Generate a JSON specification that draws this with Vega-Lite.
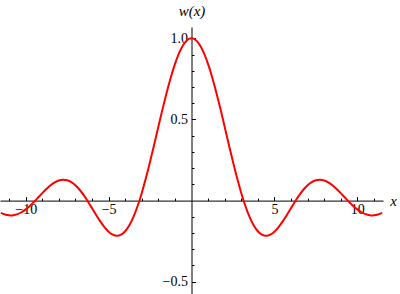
{
  "$schema": "https://vega.github.io/schema/vega-lite/v6.json",
  "autosize": {"type": "none"},
  "padding": {"left": 0, "top": 27, "right": 17, "bottom": 0},
  "width": 383,
  "height": 267,
  "background": "white",
  "config": {"view": {"stroke": null}},
  "data": {"values": [
    {"x": -11.5, "w": -0.076146}, {"x": -11.25, "w": -0.085835}, {"x": -11.0, "w": -0.090908}, {"x": -10.75, "w": -0.090282},
    {"x": -10.5, "w": -0.083781}, {"x": -10.25, "w": -0.071993}, {"x": -10.0, "w": -0.054402}, {"x": -9.75, "w": -0.032987},
    {"x": -9.5, "w": -0.007911}, {"x": -9.25, "w": 0.019088}, {"x": -9.0, "w": 0.045791}, {"x": -8.75, "w": 0.071353},
    {"x": -8.5, "w": 0.09394}, {"x": -8.25, "w": 0.111831}, {"x": -8.0, "w": 0.12367}, {"x": -7.75, "w": 0.128335},
    {"x": -7.5, "w": 0.125067}, {"x": -7.25, "w": 0.113528}, {"x": -7.0, "w": 0.093855}, {"x": -6.75, "w": 0.066673},
    {"x": -6.5, "w": 0.033095}, {"x": -6.25, "w": -0.005309}, {"x": -6.0, "w": -0.046569}, {"x": -5.75, "w": -0.088497},
    {"x": -5.5, "w": -0.12828}, {"x": -5.25, "w": -0.163607}, {"x": -5.0, "w": -0.191785}, {"x": -4.75, "w": -0.210377},
    {"x": -4.5, "w": -0.217229}, {"x": -4.25, "w": -0.210586}, {"x": -4.0, "w": -0.189201}, {"x": -3.75, "w": -0.152416},
    {"x": -3.5, "w": -0.100224}, {"x": -3.25, "w": -0.033291}, {"x": -3.0, "w": 0.04704}, {"x": -2.75, "w": 0.138786},
    {"x": -2.5, "w": 0.239389}, {"x": -2.25, "w": 0.34581}, {"x": -2.0, "w": 0.454649}, {"x": -1.75, "w": 0.562278},
    {"x": -1.5, "w": 0.664997}, {"x": -1.25, "w": 0.759188}, {"x": -1.0, "w": 0.841471}, {"x": -0.75, "w": 0.908852},
    {"x": -0.5, "w": 0.958851}, {"x": -0.25, "w": 0.98962}, {"x": 0.0, "w": 1.0},
    {"x": 0.25, "w": 0.98962}, {"x": 0.5, "w": 0.958851}, {"x": 0.75, "w": 0.908852}, {"x": 1.0, "w": 0.841471},
    {"x": 1.25, "w": 0.759188}, {"x": 1.5, "w": 0.664997}, {"x": 1.75, "w": 0.562278}, {"x": 2.0, "w": 0.454649},
    {"x": 2.25, "w": 0.34581}, {"x": 2.5, "w": 0.239389}, {"x": 2.75, "w": 0.138786}, {"x": 3.0, "w": 0.04704},
    {"x": 3.25, "w": -0.033291}, {"x": 3.5, "w": -0.100224}, {"x": 3.75, "w": -0.152416}, {"x": 4.0, "w": -0.189201},
    {"x": 4.25, "w": -0.210586}, {"x": 4.5, "w": -0.217229}, {"x": 4.75, "w": -0.210377}, {"x": 5.0, "w": -0.191785},
    {"x": 5.25, "w": -0.163607}, {"x": 5.5, "w": -0.12828}, {"x": 5.75, "w": -0.088497}, {"x": 6.0, "w": -0.046569},
    {"x": 6.25, "w": -0.005309}, {"x": 6.5, "w": 0.033095}, {"x": 6.75, "w": 0.066673}, {"x": 7.0, "w": 0.093855},
    {"x": 7.25, "w": 0.113528}, {"x": 7.5, "w": 0.125067}, {"x": 7.75, "w": 0.128335}, {"x": 8.0, "w": 0.12367},
    {"x": 8.25, "w": 0.111831}, {"x": 8.5, "w": 0.09394}, {"x": 8.75, "w": 0.071353}, {"x": 9.0, "w": 0.045791},
    {"x": 9.25, "w": 0.019088}, {"x": 9.5, "w": -0.007911}, {"x": 9.75, "w": -0.032987}, {"x": 10.0, "w": -0.054402},
    {"x": 10.25, "w": -0.071993}, {"x": 10.5, "w": -0.083781}, {"x": 10.75, "w": -0.090282}, {"x": 11.0, "w": -0.090908},
    {"x": 11.25, "w": -0.085835}, {"x": 11.5, "w": -0.076146}
  ]},
  "mark": {"type": "line", "color": "#ff0000", "strokeWidth": 2, "interpolate": "natural"},
  "encoding": {
    "x": {
      "field": "x", "type": "quantitative",
      "scale": {"domain": [-11.55, 11.55], "nice": false, "zero": false},
      "axis": {
        "orient": "bottom", "offset": -93.4, "grid": false,
        "values": [-11,-10,-9,-8,-7,-6,-5,-4,-3,-2,-1,1,2,3,4,5,6,7,8,9,10,11],
        "domainColor": "black", "domainWidth": 1, "tickColor": "black", "tickWidth": 1,
        "tickSize": {"condition": {"test": "datum.value % 5 === 0", "value": -4}, "value": -2.5},
        "labelExpr": "datum.value % 5 === 0 ? replace(format(datum.value, 'd'), '-', '\u2212') : ''",
        "labelFont": "Liberation Serif", "labelFontSize": 14, "labelColor": "black", "labelPadding": 6,
        "labelOverlap": false, "labelFlush": false,
        "title": "x", "titleFont": "Liberation Serif", "titleFontSize": 15, "titleFontStyle": "italic", "titleFontWeight": "normal",
        "titleColor": "black", "titleAlign": "center", "titleBaseline": "alphabetic", "titleX": 393, "titleY": 4.5, "titleAngle": 0
      }
    },
    "y": {
      "field": "w", "type": "quantitative",
      "scale": {"domain": [-0.576, 1.07], "nice": false, "zero": false},
      "axis": {
        "orient": "left", "offset": -191.5, "grid": false,
        "values": [-0.5,-0.4,-0.3,-0.2,-0.1,0.1,0.2,0.3,0.4,0.5,0.6,0.7,0.8,0.9,1.0],
        "domainColor": "black", "domainWidth": 1, "tickColor": "black", "tickWidth": 1,
        "tickSize": {"condition": {"test": "abs(datum.value * 2 - round(datum.value * 2)) < 0.001", "value": -4}, "value": -2.5},
        "labelExpr": "abs(datum.value * 2 - round(datum.value * 2)) < 0.001 ? replace(format(datum.value, '.1f'), '-', '\u2212') : ''",
        "labelFont": "Liberation Serif", "labelFontSize": 14, "labelColor": "black", "labelPadding": 8,
        "labelOverlap": false, "labelFlush": false,
        "title": "w(x)", "titleFont": "Liberation Serif", "titleFontSize": 15, "titleFontStyle": "italic", "titleFontWeight": "normal",
        "titleColor": "black", "titleAlign": "center", "titleBaseline": "alphabetic", "titleX": 0, "titleY": -12, "titleAngle": 0
      }
    }
  }
}
